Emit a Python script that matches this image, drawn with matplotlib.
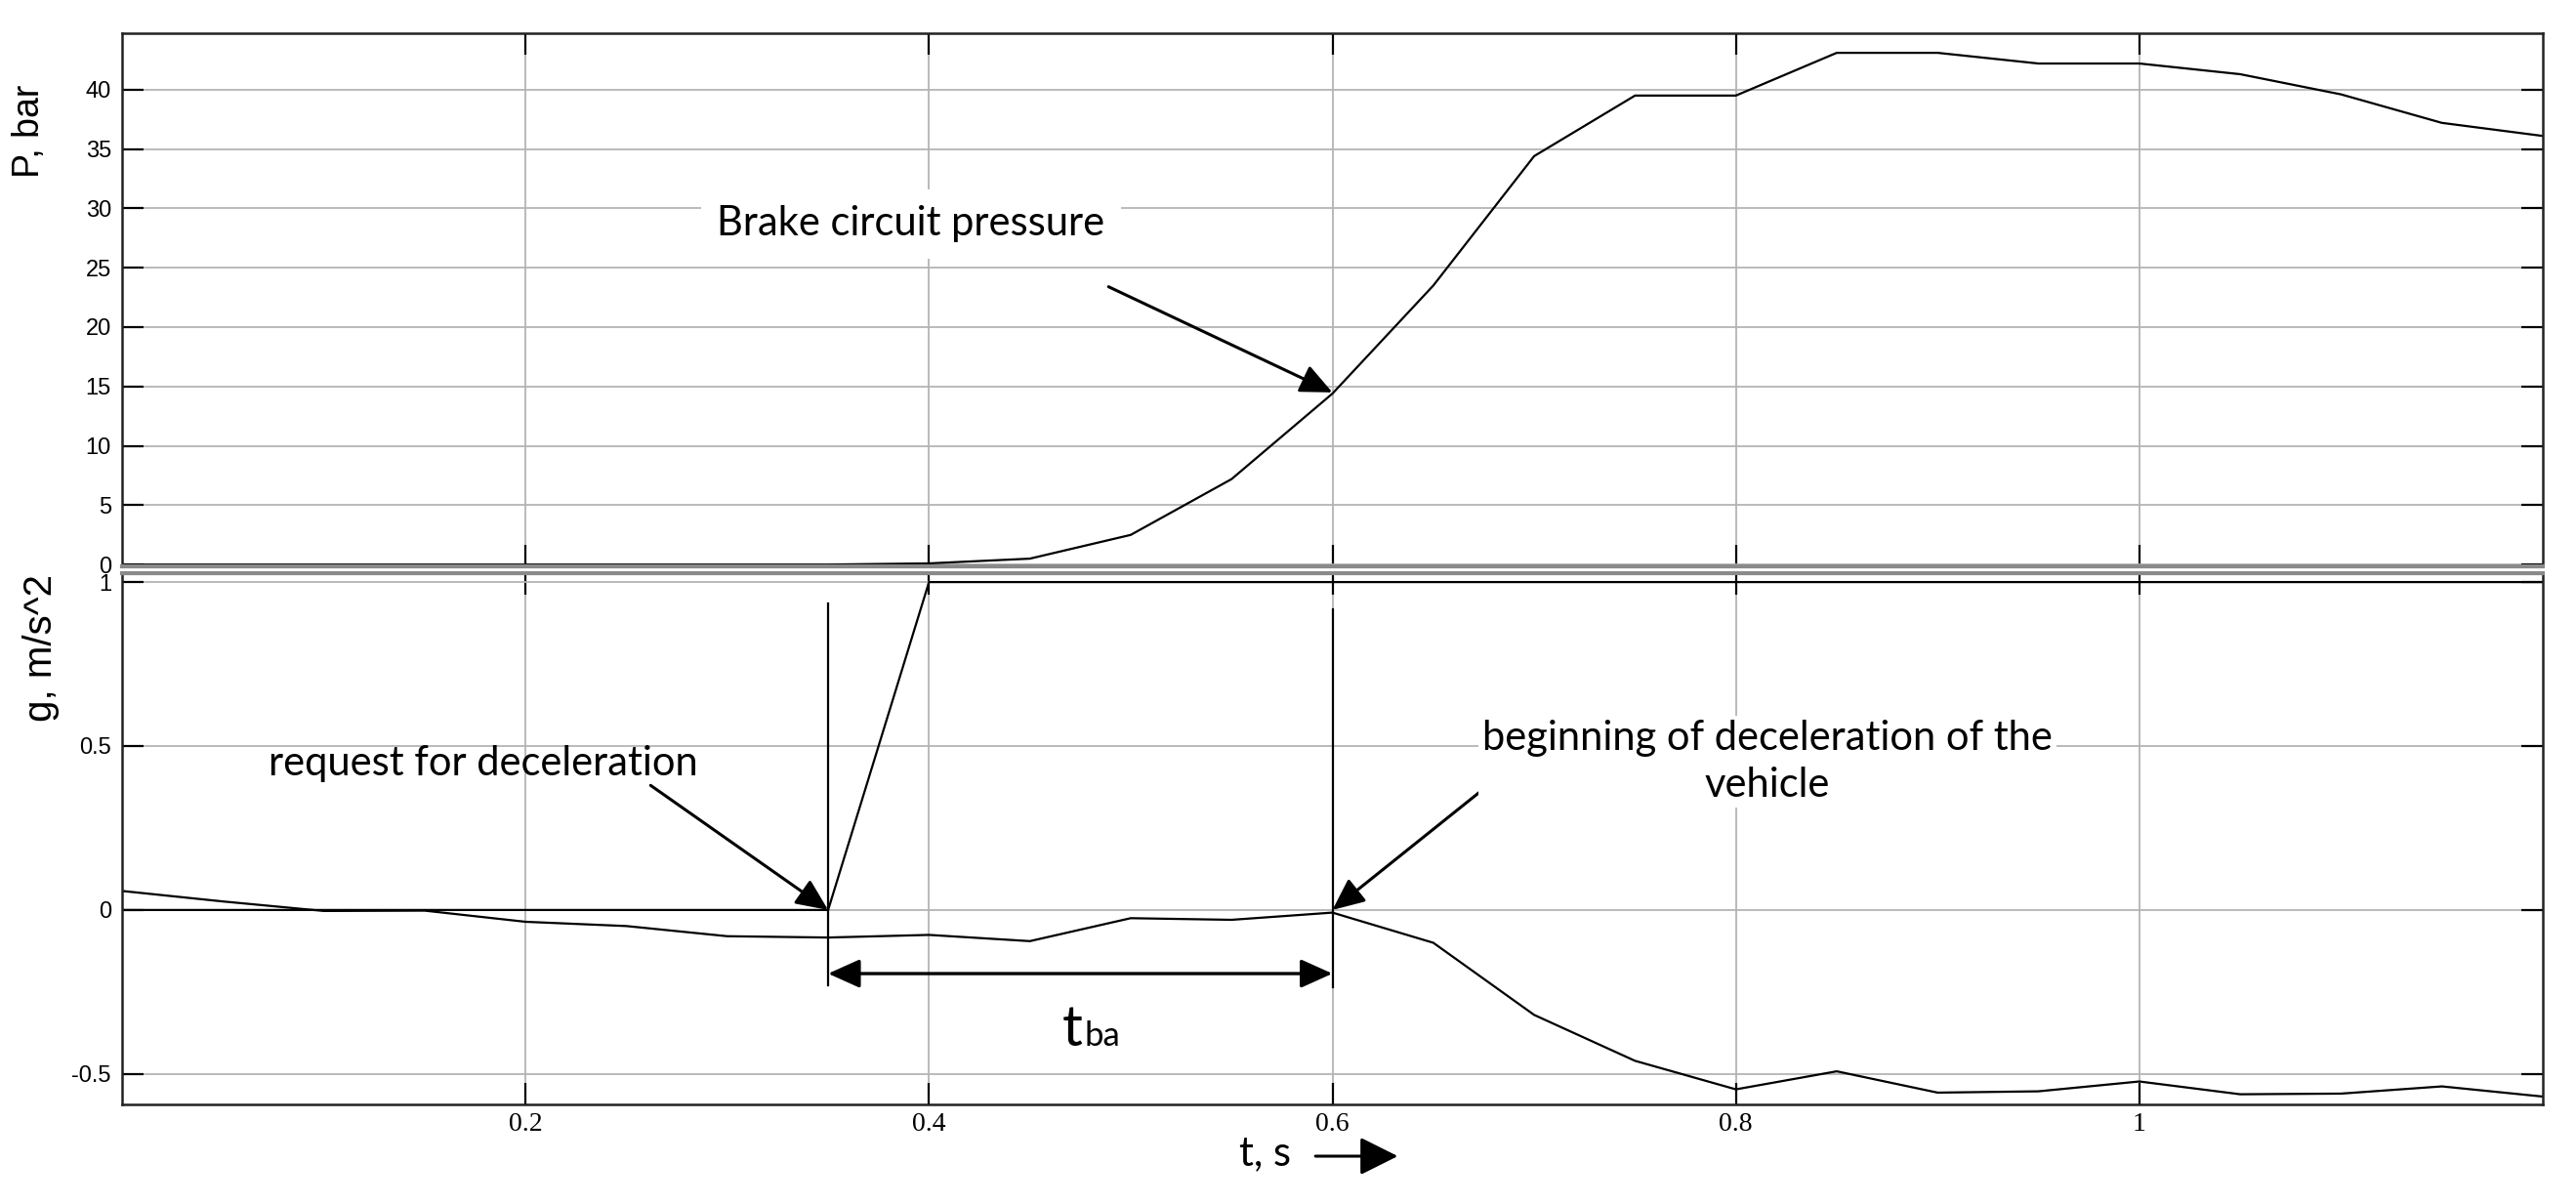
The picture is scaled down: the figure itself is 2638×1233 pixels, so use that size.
import numpy as np
import matplotlib
matplotlib.use("Agg")
import matplotlib.pyplot as plt

plt.rcParams['font.family'] = ['Liberation Sans', 'DejaVu Sans']

# data
t = [0.0, 0.05, 0.1, 0.15, 0.2, 0.25, 0.3, 0.35, 0.4, 0.45, 0.5, 0.55, 0.6,
     0.65, 0.7, 0.75, 0.8, 0.85, 0.9, 0.95, 1.0, 1.05, 1.1, 1.15, 1.2]
pressure = [0, 0, 0, 0, 0, 0, 0, 0, 0.1, 0.5, 2.5, 7.2, 14.4,
            23.5, 34.4, 39.5, 39.5, 43.1, 43.1, 42.2, 42.2, 41.3, 39.6, 37.2, 36.1]
decel = [0.058, 0.026, -0.003, -0.002, -0.036, -0.049, -0.08, -0.084, -0.076, -0.095,
         -0.025, -0.03, -0.008, -0.10, -0.32, -0.46, -0.547, -0.492, -0.557, -0.553,
         -0.523, -0.562, -0.560, -0.538, -0.569]
request_t = [0.0, 0.35, 0.4, 1.2]
request = [0, 0, 1, 1]

t_request = 0.35   # request for deceleration
t_begin = 0.6      # beginning of deceleration

x_ticks = [0.2, 0.4, 0.6, 0.8, 1.0]
x_labels = ['0.2', '0.4', '0.6', '0.8', '1']
p_ticks = [0, 5, 10, 15, 20, 25, 30, 35, 40]
g_ticks = [-0.5, 0, 0.5, 1]
g_labels = ['-0.5', '0', '0.5', '1']

ann_font = 'Lato'
ann_size = 30
grid_col = '#b4b4b4'

fig = plt.figure(figsize=(26.38, 12.33), dpi=100)
ax1 = fig.add_axes([0.0474, 0.5296, 0.9397, 0.4428])
ax2 = fig.add_axes([0.0474, 0.0827, 0.9397, 0.4412])

for ax in (ax1, ax2):
    ax.set_xlim(0, 1.2)
    ax.set_xticks(x_ticks)
    ax.grid(True, color=grid_col, lw=1.3)
    ax.set_axisbelow(True)
    ax.tick_params(direction='in', length=16, width=1.6, top=True, right=True,
                   pad=8, labelsize=17)
    for s in ax.spines.values():
        s.set_linewidth(1.8)
        s.set_color('#222222')

arrow = dict(arrowstyle='-|>,head_length=1.0,head_width=0.45', mutation_scale=20,
             lw=2.2, color='black', shrinkA=0, shrinkB=0)

# top: brake pressure
ax1.plot(t, pressure, color='black', lw=1.6)
ax1.set_ylim(-0.15, 44.75)
ax1.set_yticks(p_ticks)
ax1.set_xticklabels([])
ax1.set_ylabel('P, bar', fontsize=27)
ax1.yaxis.set_label_coords(-0.031, 0.817)
ax1.spines['bottom'].set_color('#8a8a8a')
ax1.spines['bottom'].set_linewidth(3)

ax1.text(0.391, 28.7, 'Brake circuit pressure', fontsize=ann_size, family=ann_font,
         ha='center', va='center',
         bbox=dict(boxstyle='square,pad=0.4', fc='white', ec='none'))
ax1.annotate('', xy=(0.6, 14.5), xytext=(0.489, 23.4), arrowprops=arrow)

# bottom: deceleration
ax2.plot(request_t, request, color='black', lw=1.6)
ax2.plot(t, decel, color='black', lw=1.6)
ax2.set_ylim(-0.593, 1.027)
ax2.set_yticks(g_ticks)
ax2.set_yticklabels(g_labels)
ax2.set_xticklabels(x_labels, family='Liberation Serif', fontsize=20)
ax2.tick_params(axis='x', pad=6)
ax2.set_ylabel('g, m/s^2', fontsize=29)
ax2.yaxis.set_label_coords(-0.026, 0.86)
ax2.spines['top'].set_color('#8a8a8a')
ax2.spines['top'].set_linewidth(3)

# marker lines for the two events
ax2.plot([t_request, t_request], [0.934, -0.229], color='black', lw=1.6)
ax2.plot([t_begin, t_begin], [0.916, -0.235], color='black', lw=1.6)

ax2.annotate('', xy=(t_request, 0.0), xytext=(0.262, 0.38), arrowprops=arrow)
ax2.text(0.179, 0.446, 'request for deceleration', fontsize=ann_size, family=ann_font,
         ha='center', va='center')

ax2.annotate('', xy=(t_begin, 0.0), xytext=(0.6875, 0.431), arrowprops=arrow)
ax2.text(0.8155, 0.452, 'beginning of deceleration of the\nvehicle', fontsize=ann_size,
         family=ann_font, ha='center', va='center', linespacing=1.3,
         bbox=dict(boxstyle='square,pad=0.1', fc='white', ec='none'))

ax2.annotate('', xy=(t_request, -0.194), xytext=(t_begin, -0.194),
             arrowprops=dict(arrowstyle='<|-|>,head_length=1.0,head_width=0.45',
                             mutation_scale=20, lw=2.4, color='black',
                             shrinkA=0, shrinkB=0))
ax2.text(0.476, -0.414, 't', fontsize=42, family=ann_font, ha='right', va='baseline')
ax2.text(0.477, -0.414, 'ba', fontsize=25, family=ann_font, ha='left', va='baseline')

# axis caption with arrow under the time axis
ax2.text(0.472, -0.092, 't, s', fontsize=ann_size, family=ann_font, ha='center',
         va='center', transform=ax2.transAxes)
ax2.annotate('', xy=(0.527, -0.0974), xytext=(0.493, -0.0974),
             xycoords='axes fraction', textcoords='axes fraction',
             arrowprops=dict(arrowstyle='-|>,head_length=1.2,head_width=0.6',
                             mutation_scale=20, lw=2.2, color='black',
                             shrinkA=0, shrinkB=0), annotation_clip=False)

fig.savefig('out.png', dpi=100)
